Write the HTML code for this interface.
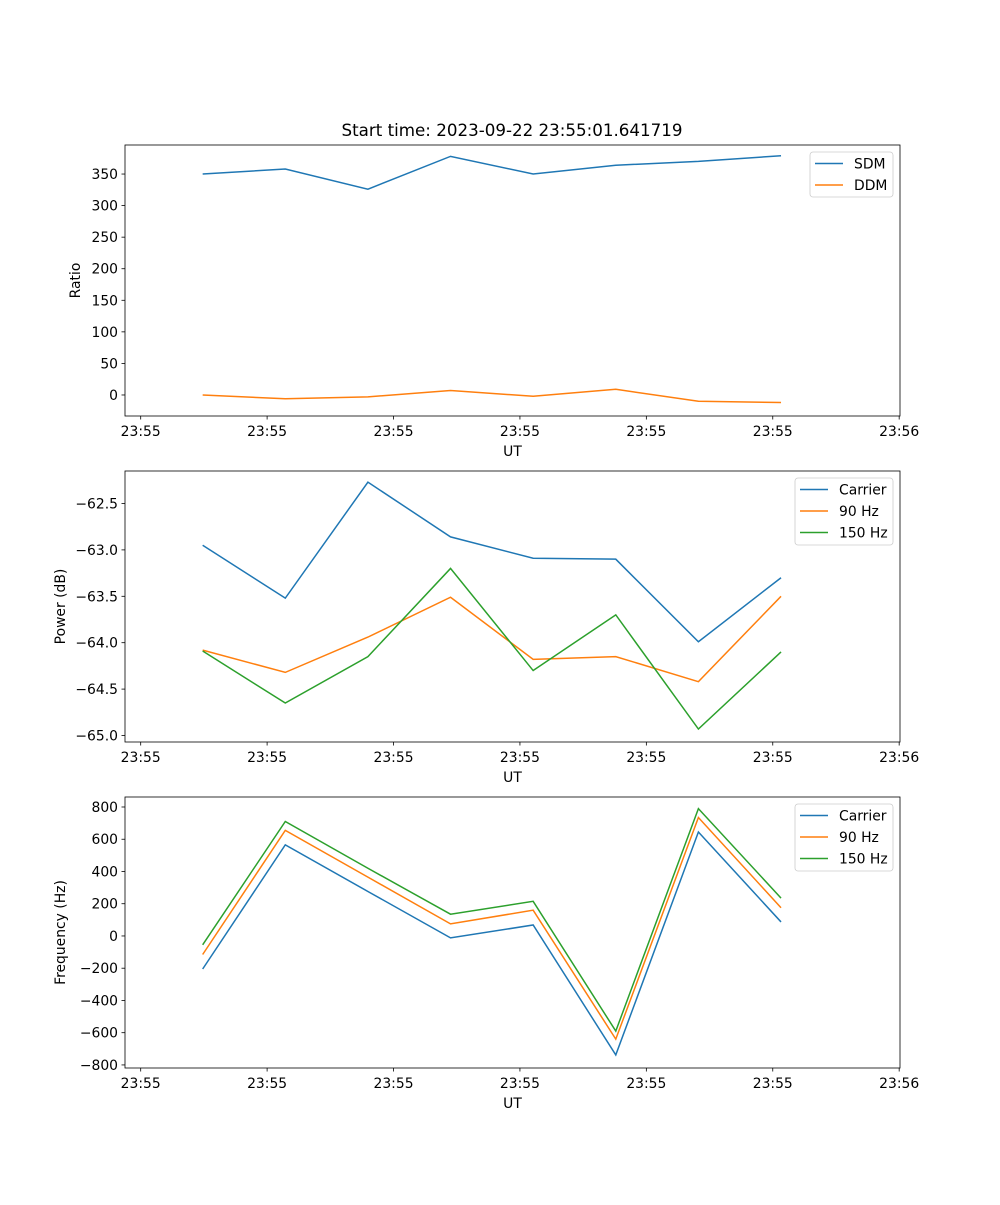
<!DOCTYPE html>
<html><head><meta charset="utf-8"><style>
body{margin:0;background:#fff}
svg{font-family:"DejaVu Sans","Liberation Sans",sans-serif}
</style></head><body>
<svg id="fig" width="1000" height="1200" viewBox="0 0 1000 1200" xmlns="http://www.w3.org/2000/svg">
<text x="512" y="136" font-size="16.7" text-anchor="middle">Start time: 2023-09-22 23:55:01.641719</text>
</svg>
<script>
const times = [0,1,2,3,4,5,6,7];
const xTickTimes = [-0.75,0.78,2.31,3.84,5.37,6.90,8.43];
const xTickLabels = ["23:55","23:55","23:55","23:55","23:55","23:55","23:56"];
const sdm = [350,358,326,378,350,364,370,379];
const ddm = [0,-6,-3,7,-2,9,-10,-12];
const powCarrier = [-62.95,-63.52,-62.27,-62.86,-63.09,-63.10,-63.99,-63.30];
const pow90 = [-64.08,-64.32,-63.94,-63.51,-64.18,-64.15,-64.42,-63.50];
const pow150 = [-64.09,-64.65,-64.15,-63.20,-64.30,-63.70,-64.93,-64.10];
const freqCarrier = [-205,565,276,-12,68,-738,645,87];
const freq90 = [-115,655,365,75,160,-640,735,175];
const freq150 = [-55,710,420,135,215,-590,790,235];
const ticks1 = [0,50,100,150,200,250,300,350];
const ticks2 = [-65.0,-64.5,-64.0,-63.5,-63.0,-62.5];
const ticks3 = [-800,-600,-400,-200,0,200,400,600,800];

const NS="http://www.w3.org/2000/svg";
const svg=document.getElementById('fig');
function mk(tag,attrs,parent){const e=document.createElementNS(NS,tag);for(const k in attrs)e.setAttribute(k,attrs[k]);(parent||svg).appendChild(e);return e;}
const L=125,R=900,xmin=-0.94,xmax=8.44,FS=13.9;
const xs=t=>L+(t-xmin)/(xmax-xmin)*(R-L);
const colors=["#1f77b4","#ff7f0e","#2ca02c"];
function panel(idx,top,bottom,ymin,ymax,yticks,fmt,ylabel,series,names,legW){
  const g=mk('g',{});
  
  
  const ys=v=>bottom-(v-ymin)/(ymax-ymin)*(bottom-top);
  series.forEach((s,i)=>{
    const p=mk('polyline',{points:s.map((v,j)=>xs(times[j])+','+ys(v)).join(' '),fill:'none',stroke:colors[i],'stroke-width':1.5},g);
    
    
  });
  const fr=mk('rect',{x:L,y:top,width:R-L,height:bottom-top,fill:'none',stroke:'#000','stroke-width':0.8},g);
  
  
  yticks.forEach(v=>{
    const y=ys(v);
    mk('line',{x1:L-3.5,x2:L,y1:y,y2:y,stroke:'#000','stroke-width':0.8},g);
    const t=mk('text',{x:L-7,y:y+5,'font-size':FS,'text-anchor':'end'},g);
    t.textContent=fmt(v);
    
    
  });
  xTickTimes.forEach((tt,i)=>{
    const x=xs(tt);
    mk('line',{x1:x,x2:x,y1:bottom,y2:bottom+3.5,stroke:'#000','stroke-width':0.8},g);
    const t=mk('text',{x:x,y:bottom+20,'font-size':FS,'text-anchor':'middle'},g);
    t.textContent=xTickLabels[i];
    
    
  });
  const xl=mk('text',{x:(L+R)/2,y:bottom+40,'font-size':FS,'text-anchor':'middle'},g);
  xl.textContent='UT';
  
  
  const yc=(top+bottom)/2, yx=idx==1?80:65;
  const yl=mk('text',{x:yx,y:yc,'font-size':FS,'text-anchor':'middle',transform:`rotate(-90 ${yx} ${yc})`},g);
  yl.textContent=ylabel;
  
  
  const lx=R-7-legW, ly=top+7, lh=1+names.length*22;
  const lg=mk('g',{},g);
  
  
  mk('rect',{x:lx,y:ly,width:legW,height:lh,rx:3,fill:'#fff',stroke:'#ccc','stroke-width':0.8,'fill-opacity':0.8},lg);
  names.forEach((n,i)=>{
    const yy=ly+11.5+i*21.5;
    mk('line',{x1:lx+5,x2:lx+33,y1:yy,y2:yy,stroke:colors[i],'stroke-width':1.5},lg);
    const t=mk('text',{x:lx+44,y:yy+5,'font-size':FS},lg);
    t.textContent=n;
    
    
  });
}
panel(1,145,416,-33.3,396,ticks1,v=>String(v),'Ratio',[sdm,ddm],['SDM','DDM'],83);
panel(2,471,742,-65.07,-62.15,ticks2,v=>'\u2212'+Math.abs(v).toFixed(1),'Power (dB)',[powCarrier,pow90,pow150],['Carrier','90 Hz','150 Hz'],98);
panel(3,797,1068,-819,862,ticks3,v=>(v<0?'\u2212':'')+Math.abs(v),'Frequency (Hz)',[freqCarrier,freq90,freq150],['Carrier','90 Hz','150 Hz'],98);
</script>
</body></html>
